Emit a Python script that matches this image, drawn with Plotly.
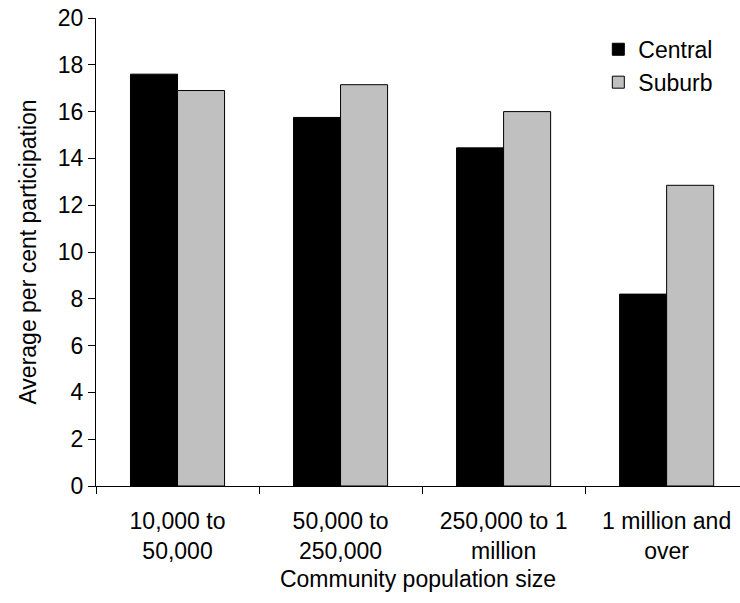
import plotly.graph_objects as go

categories = ["10,000 to<br>50,000", "50,000 to<br>250,000", "250,000 to 1<br>million", "1 million and<br>over"]
central = [17.6, 15.75, 14.45, 8.2]
suburb = [16.9, 17.15, 16.0, 12.85]

FONT = "Liberation Sans, Arial, sans-serif"

fig = go.Figure()
fig.add_trace(go.Bar(x=categories, y=central, name="Central", legendgroup="c",
                     marker=dict(color="#000000", line=dict(color="#000000", width=1))))
fig.add_trace(go.Bar(x=categories, y=suburb, name="Suburb", legendgroup="s",
                     marker=dict(color="#C0C0C0", line=dict(color="#000000", width=1))))

fig.update_layout(
    width=740, height=603,
    margin=dict(l=96, r=0, t=18, b=117),
    paper_bgcolor="white", plot_bgcolor="white",
    font=dict(family=FONT, size=23, color="black"),
    barmode="group", bargap=0.423, bargroupgap=0,
    showlegend=True,
    legend=dict(x=0.780, y=0.979, xanchor="left", yanchor="top", bgcolor="rgba(0,0,0,0)",
                font=dict(size=23, family=FONT, color="black"), traceorder="grouped",
                tracegroupgap=0, itemwidth=30),
    xaxis=dict(range=[-0.5, 3.45], showline=True, linecolor="black", linewidth=1,
               ticks="outside", tickson="boundaries", ticklen=7, tickcolor="black",
               showgrid=False, zeroline=False, automargin=False,
               tickfont=dict(size=23, family=FONT, color="black"), ticklabelstandoff=14,
               title=dict(text="Community population size", standoff=8,
                          font=dict(size=23, family=FONT, color="black"))),
    yaxis=dict(range=[0, 20.0001], tickvals=[0, 2, 4, 6, 8, 10, 12, 14, 16, 18, 20],
               showline=True, linecolor="black", linewidth=1,
               ticks="outside", ticklen=7, tickcolor="black", showgrid=False, zeroline=False,
               automargin=False, ticklabeloverflow="allow",
               tickfont=dict(size=23, family=FONT, color="black"), ticklabelstandoff=0,
               title=dict(text="Average per cent participation", standoff=14,
                          font=dict(size=23, family=FONT, color="black"))),
)

# remove the browser's default 8px body margin so the figure fills the window
fig.write_html("out.html", config={"displayModeBar": False},
               post_script="document.body.style.margin='0px';")
